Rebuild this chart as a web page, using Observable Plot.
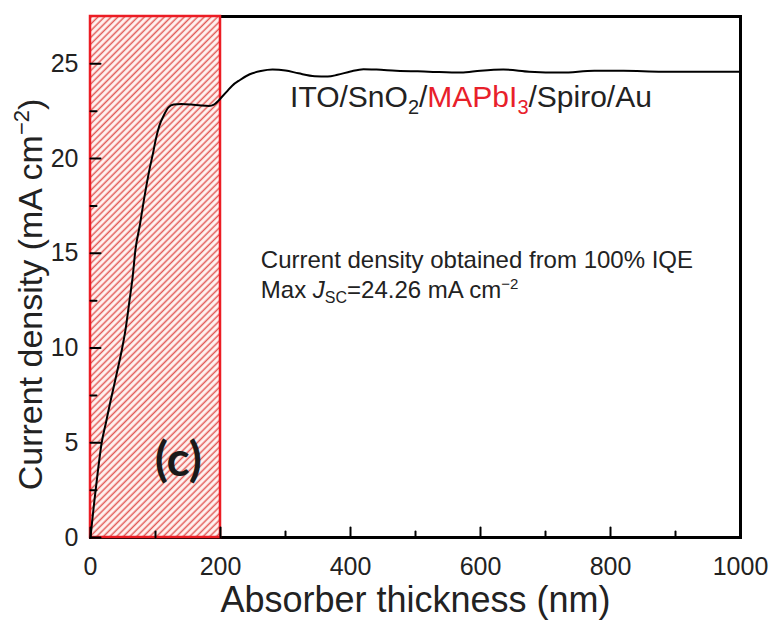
<!DOCTYPE html>
<html>
<head>
<meta charset="utf-8">
<script src="https://cdn.jsdelivr.net/npm/d3@7"></script>
<script src="https://cdn.jsdelivr.net/npm/@observablehq/plot@0.6"></script>
<style>
  html, body { margin: 0; padding: 0; background: white; }
</style>
</head>
<body>
<svg width="0" height="0" style="position:absolute">
  <defs>
    <pattern id="hatch" patternUnits="userSpaceOnUse" width="4.7" height="4.7" patternTransform="rotate(45)">
      <rect width="4.7" height="4.7" fill="#fff4f2"></rect>
      <line x1="1.3" y1="0" x2="1.3" y2="4.7" stroke="#e25a56" stroke-width="1.5"></line>
    </pattern>
  </defs>
</svg>
<div id="chart"></div>
<script>
// ---- data ----
const thickness = [0,3,6,11,17,24,31,40,48,54,60,65,69,76,82,90,97,100,106,113,120,128,140,155,170,182,190,197,202,210,218,230,245,262,280,300,320,345,365,380,400,420,440,470,520,570,600,635,675,725,775,820,880,925,1000];
const density   = [0,1.0,1.95,3.4,4.96,6.1,7.23,8.6,9.87,11.0,12.5,13.8,15.15,16.5,17.78,19.3,20.42,20.95,21.74,22.3,22.7,22.85,22.88,22.85,22.8,22.78,22.85,23.06,23.25,23.55,23.85,24.15,24.45,24.62,24.7,24.65,24.5,24.35,24.33,24.42,24.6,24.72,24.7,24.64,24.59,24.54,24.64,24.7,24.59,24.54,24.64,24.64,24.59,24.59,24.59];

const xMajor = [0, 200, 400, 600, 800, 1000];
const xMinor = [100, 300, 500, 700, 900];
const yMajor = [0, 5, 10, 15, 20, 25];
const yMinor = [2.5, 7.5, 12.5, 17.5, 22.5];

const xDomain = [0, 1000];
const yDomain = [0, 27.5];

const shadedRegion = [{x1: 0, x2: 200}];

const xTitle = "Absorber thickness (nm)";
const yTitle = "Current density (mA cm\u22122)";
const deviceLabel = "ITO/SnO2/MAPbI3/Spiro/Au";
const noteLine1 = "Current density obtained from 100% IQE";
const noteLine2 = "Max JSC=24.26 mA cm\u22122";
const panelLabel = "(c)";

// annotation anchor positions in data units
const annotations = [
  {x: 307, y: 23.25, text: deviceLabel, size: 30},
  {x: 262, y: 14.65, text: noteLine1, size: 24},
  {x: 262, y: 13.07, text: noteLine2, size: 24}
];
const panel = [{x: 135, y: 4.06, text: panelLabel}];

const curve = thickness.map((t, i) => ({t, j: density[i]}));
const FONT = "'Liberation Sans', Arial, sans-serif";

// inward tick shapes for vector marks
const tickShape = {draw(context, l) { context.moveTo(0, 0); context.lineTo(0, -l); }};

const plot = Plot.plot({
  width: 773,
  height: 623,
  marginLeft: 90,
  marginRight: 33,
  marginTop: 16,
  marginBottom: 86,
  style: {fontFamily: FONT, fontSize: "25px", background: "white", color: "black"},
  x: {domain: xDomain},
  y: {domain: yDomain},
  marks: [
    Plot.frame({stroke: "black", strokeWidth: 3}),
    Plot.rect(shadedRegion, {x1: "x1", x2: "x2", y1: () => yDomain[0], y2: () => yDomain[1], fill: "url(#hatch)", stroke: "#ec1c24", strokeWidth: 2.5}),
    Plot.line(curve, {x: "t", y: "j", stroke: "black", strokeWidth: 2, curve: "monotone-x"}),
    // inward ticks (vectors pointing into the frame)
    Plot.vector(xMajor, {x: d => d, y: () => yDomain[0], length: 10, rotate: 0, anchor: "start", shape: tickShape, stroke: "black", strokeWidth: 2}),
    Plot.vector(xMinor, {x: d => d, y: () => yDomain[0], length: 6, rotate: 0, anchor: "start", shape: tickShape, stroke: "black", strokeWidth: 2}),
    Plot.vector(yMajor, {x: () => xDomain[0], y: d => d, length: 10, rotate: 90, anchor: "start", shape: tickShape, stroke: "black", strokeWidth: 2}),
    Plot.vector(yMinor, {x: () => xDomain[0], y: d => d, length: 6, rotate: 90, anchor: "start", shape: tickShape, stroke: "black", strokeWidth: 2}),
    // tick labels
    Plot.axisX(xMajor, {anchor: "bottom", tickSize: 0, tickPadding: 20, tickFormat: d3.format("d"), fontSize: 25, fill: "#222", label: null}),
    Plot.axisY(yMajor, {anchor: "left", tickSize: 0, tickPadding: 12, tickFormat: d3.format("d"), fontSize: 25, fill: "#222", label: null}),
    // axis titles
    Plot.text([xTitle], {text: d => d, frameAnchor: "bottom", lineAnchor: "top", dy: 49, fontSize: 36, fill: "#222"}),
    Plot.text([yTitle], {text: d => d, frameAnchor: "left", textAnchor: "middle", rotate: -90, dx: -59, dy: 17.5, fontSize: 34, fill: "#222"}),
    // annotations
    Plot.text(annotations, {x: "x", y: "y", text: "text", fontSize: d => d.size, textAnchor: "start", fill: "#222"}),
    Plot.text(panel, {x: "x", y: "y", text: "text", fontSize: 48, fontWeight: "bold", fontFamily: "Lato, 'Open Sans', sans-serif", fill: "#1a1a1a"})
  ]
});

// rich text (sub/superscripts, colour, italic)
function richText(svg, plain, parts) {
  d3.select(svg).selectAll("text").filter(function () { return this.textContent === plain; }).each(function () {
    const t = d3.select(this);
    t.text(null);
    for (const p of parts) {
      const s = t.append("tspan").text(p.t);
      if (p.fill) s.attr("fill", p.fill);
      if (p.size) s.attr("font-size", p.size);
      if (p.dy) s.attr("dy", p.dy);
      if (p.italic) s.attr("font-style", "italic");
    }
  });
}
const RED = "#e8202a";
richText(plot, deviceLabel, [
  {t: "ITO/SnO"}, {t: "2", size: 20, dy: 7}, {t: "/", dy: -7},
  {t: "MAPbI", fill: RED}, {t: "3", size: 20, dy: 7, fill: RED}, {t: "/Spiro/Au", dy: -7}
]);
richText(plot, noteLine2, [
  {t: "Max "}, {t: "J", italic: true}, {t: "SC", size: 16, dy: 5}, {t: "=24.26 mA cm", dy: -5},
  {t: "\u22122", size: 15, dy: -9}
]);
richText(plot, yTitle, [
  {t: "Current density (mA cm"}, {t: "\u22122", size: 22, dy: -13}, {t: ")", dy: 13}
]);

document.getElementById("chart").appendChild(plot);
</script>
</body>
</html>
